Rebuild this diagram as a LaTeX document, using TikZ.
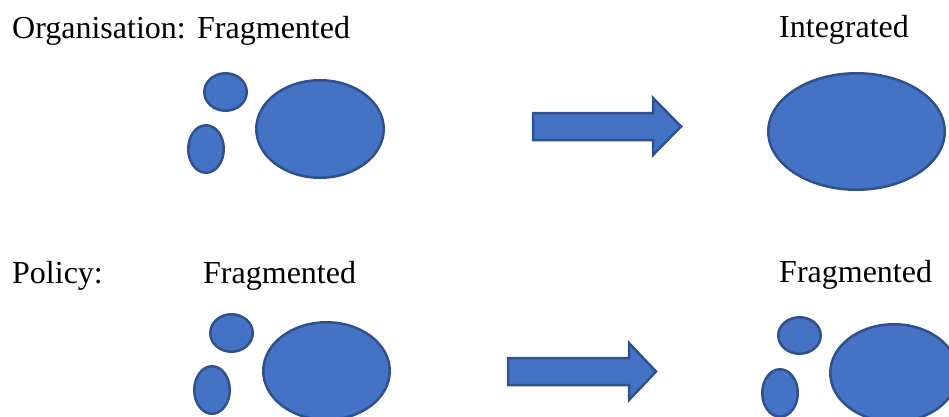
\documentclass[tikz,border=0pt]{standalone}
\usepackage{fontspec}
\setmainfont{Liberation Serif}
\usetikzlibrary{shapes.geometric}
\definecolor{blobfill}{HTML}{4472C4}
\definecolor{blobline}{HTML}{2F528F}
\begin{document}
\begin{tikzpicture}[
        x=1pt, y=-1pt,
        label/.style={anchor=base west, inner sep=0pt, font=\fontsize{32}{38}\selectfont},
        blob/.style={ellipse, draw=blobline, fill=blobfill, line width=2.5pt, inner sep=0pt},
        bigarrow/.style={draw=blobline, fill=blobfill, line width=2.5pt, line join=miter},
    ]
        \useasboundingbox (0,0) rectangle (949,416);
        \clip (0,0) rectangle (949,416);

        % Row labels
        \node[label] (orgtxt) at (12,38) {Organisation:};
        \node[label] (orgfrom) at (197,38) {Fragmented};
        \node[label] (orgto) at (779,37) {Integrated};
        \node[label] (poltxt) at (12,283) {Policy:};
        \node[label] (polfrom) at (203,283) {Fragmented};
        \node[label] (polto) at (779,282) {Fragmented};

        % Organisation: fragmented blobs
        \node[blob, minimum width=42.5pt, minimum height=37.5pt] (oa) at (225.5,92) {};
        \node[blob, minimum width=35.5pt, minimum height=47.5pt] (ob) at (206,149) {};
        \node[blob, minimum width=127.5pt, minimum height=97.5pt] (oc) at (320,129) {};

        % Organisation: integrated blob
        \node[blob, minimum width=176.5pt, minimum height=116.5pt] (oint) at (856.5,131.5) {};

        % Policy: fragmented blobs (left)
        \node[blob, minimum width=42.5pt, minimum height=37.5pt] (pa) at (231.5,333) {};
        \node[blob, minimum width=35.5pt, minimum height=47.5pt] (pb) at (212,390) {};
        \node[blob, minimum width=126.5pt, minimum height=97.5pt] (pc) at (326.5,371) {};

        % Policy: fragmented blobs (right)
        \node[blob, minimum width=42.5pt, minimum height=36.5pt] (qa) at (799.5,335.5) {};
        \node[blob, minimum width=35.5pt, minimum height=47.5pt] (qb) at (780,393) {};
        \node[blob, minimum width=127.5pt, minimum height=97.5pt] (qc) at (894,373) {};

        % Block arrows
        \draw[bigarrow] (533,113) -- (653,113) -- (653,98) -- (681,126.5)
            -- (653,155) -- (653,140) -- (533,140) -- cycle;
        \draw[bigarrow] (508,358) -- (629,358) -- (629,343) -- (656,371.5)
            -- (629,400) -- (629,385) -- (508,385) -- cycle;
    \end{tikzpicture}
\end{document}
